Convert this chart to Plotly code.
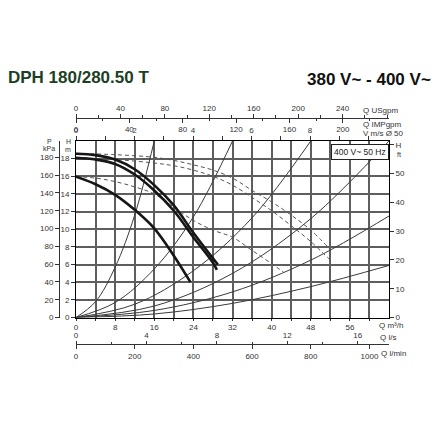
import plotly.graph_objects as go

# ---------------- data (Q in m3/h, H in m) ----------------
q_c1 = [0, 4, 8, 12, 16, 20, 24, 28, 29]
h_c1 = [18.55, 18.4, 17.9, 16.8, 15.0, 12.7, 9.6, 6.7, 6.0]
q_c2 = [0, 4, 8, 12, 16, 20, 24, 28, 28.8]
h_c2 = [18.1, 17.9, 17.4, 16.2, 14.4, 12.1, 9.1, 6.2, 5.4]
q_c3 = [0, 4, 8, 12, 16, 20, 23.4]
h_c3 = [15.95, 15.1, 13.9, 12.2, 10.1, 7.0, 4.0]

q_da = [0, 8, 16, 20, 24, 28, 32, 36, 40, 44, 48, 52]
h_da = [18.6, 18.45, 18.15, 17.8, 17.3, 16.7, 15.8, 14.4, 13.1, 11.6, 9.9, 7.7]
q_db = [0, 8, 16, 20, 24, 28, 32, 36, 40, 44, 48, 52]
h_db = [18.1, 17.9, 17.5, 17.2, 16.7, 16.0, 15.0, 13.6, 12.1, 10.4, 8.6, 6.5]
q_dc = [0, 4, 8, 12, 16, 20, 24, 28, 32, 36, 40, 42.5]
h_dc = [15.95, 15.8, 15.4, 14.8, 14.0, 12.5, 11.0, 9.9, 9.1, 7.6, 6.1, 5.1]

# system curves
q_s1 = [0, 4, 8, 12, 16];   h_s1 = [0, 1.8, 5.7, 11.6, 20]
q_s2 = [0, 8, 16, 24, 32];  h_s2 = [0, 1.7, 5.5, 11.4, 20]
q_s3 = [0, 12, 24, 36, 48]; h_s3 = [0, 1.5, 5.3, 11.3, 20]
q_s4 = [0, 16, 32, 48, 64]; h_s4 = [0, 1.3, 5.0, 11.2, 20]
q_s5 = [0, 16, 32, 48, 64]; h_s5 = [0, 0.8, 2.9, 6.5, 11.5]
q_s6 = [0, 16, 32, 48, 64]; h_s6 = [0, 0.4, 1.6, 3.5, 5.9]

# axis ticks
q_ticks = list(range(0, 61, 4))
q_labels = [str(v) if v % 8 == 0 else "" for v in q_ticks]
h_ticks = list(range(0, 19, 2))
ft_ticks = [0, 10, 20, 30, 40, 50, 60]
ft_labels = ["0", "10", "20", "30", "40", "50", "H"]
kpa_ticks = list(range(0, 181, 20))
usgpm_ticks = [0, 40, 80, 120, 160, 200, 240]
impgpm_ticks = [0, 40, 80, 120, 160, 200]
v_ticks = list(range(0, 11))
v_labels = [str(v) if (v % 2 == 0 and v <= 8) else "" for v in v_ticks]
ls_ticks = [0, 4, 8, 12, 16]
lmin_ticks = [0, 200, 400, 600, 800, 1000]

# ---------------- layout geometry (screen pixels; page body has an 8px margin) ----------------
W, H = 440, 440
OFF = 8
PAPER_L, PAPER_R, PAPER_T, PAPER_B = 50, 389, 100, 360   # screen px
ML, MR = PAPER_L - OFF, W - (PAPER_R - OFF)
MT, MB = PAPER_T - OFF, H - (PAPER_B - OFF)
PW = PAPER_R - PAPER_L
PH = PAPER_B - PAPER_T
X0, X1 = 76, 389
Y0, Y1 = 317.5, 141
Q_MAX = 64


def fx(px):
    return (px - PAPER_L) / PW


def fy(py):
    return (PAPER_B - py) / PH


fig = go.Figure()

sys_style = dict(color="#3a3a3a", width=1, shape="spline", smoothing=1)
for q, h in [(q_s1, h_s1), (q_s2, h_s2), (q_s3, h_s3), (q_s4, h_s4), (q_s5, h_s5), (q_s6, h_s6)]:
    fig.add_trace(go.Scatter(x=q, y=h, mode="lines", line=sys_style, showlegend=False, hoverinfo="skip"))

dash_style = dict(color="#555555", width=1, dash="4px,3px", shape="spline", smoothing=1)
for q, h in [(q_da, h_da), (q_db, h_db), (q_dc, h_dc)]:
    fig.add_trace(go.Scatter(x=q, y=h, mode="lines", line=dash_style, showlegend=False, hoverinfo="skip"))

thick = dict(color="#161616", width=2.6, shape="spline", smoothing=1)
for q, h in [(q_c1, h_c1), (q_c2, h_c2), (q_c3, h_c3)]:
    fig.add_trace(go.Scatter(x=q, y=h, mode="lines", line=thick, showlegend=False, hoverinfo="skip"))

# placeholder traces so every overlay axis is drawn
for xa, ya in [("x2", "y"), ("x3", "y"), ("x4", "y"), ("x5", "y"), ("x6", "y"), ("x", "y2"), ("x", "y3")]:
    fig.add_trace(go.Scatter(x=[None], y=[None], xaxis=xa, yaxis=ya, mode="lines",
                             showlegend=False, hoverinfo="skip"))

tf = dict(family="Liberation Sans, Arial, sans-serif", size=8, color="#333333")
grid = dict(showgrid=True, gridcolor="#5e5e5e", gridwidth=1.5)
common = dict(automargin=False, zeroline=False, tickcolor="#333", tickfont=tf, tickmode="array")

fig.update_layout(
    width=W, height=H,
    margin=dict(l=ML, r=MR, t=MT, b=MB, pad=0, autoexpand=False),
    paper_bgcolor="white", plot_bgcolor="white",
    showlegend=False,
    xaxis=dict(domain=[fx(X0), 1], range=[0, Q_MAX], tickvals=q_ticks, ticktext=q_labels,
               ticks="outside", ticklen=2, showline=True, linecolor="black", linewidth=1,
               anchor="y", **grid, **common),
    yaxis=dict(domain=[fy(Y0), fy(Y1)], range=[0, 20], tickvals=h_ticks,
               ticks="outside", ticklen=4, showline=True, linecolor="black",
               linewidth=1, anchor="x", **grid, **common),
    yaxis2=dict(overlaying="y", side="right", anchor="x", range=[0, (Y0 - Y1) / 2.88],
                tickvals=ft_ticks, ticktext=ft_labels, ticks="outside", ticklen=4,
                showline=True, linecolor="black", linewidth=1, showgrid=False, **common),
    yaxis3=dict(overlaying="y", side="left", anchor="free", position=fx(59),
                range=[0, (Y0 - Y1) / 0.890], tickvals=kpa_ticks, ticks="outside", ticklen=4,
                showline=True, linecolor="#333", linewidth=1, showgrid=False, **common),
    xaxis2=dict(overlaying="x", anchor="free", position=fy(117.7), side="top",
                range=[0, Q_MAX / 0.22712], tickvals=usgpm_ticks, ticks="outside", ticklen=4,
                showline=True, linecolor="#333", linewidth=1, showgrid=False,
                minor=dict(dtick=20, tick0=0, ticks="outside", ticklen=2.5, tickcolor="#333"),
                **common),
    xaxis3=dict(overlaying="x", anchor="free", position=fy(117.7), side="bottom",
                range=[0, Q_MAX / 0.27277], tickvals=impgpm_ticks, ticks="outside", ticklen=4,
                showline=False, showgrid=False,
                minor=dict(dtick=20, tick0=0, ticks="outside", ticklen=2.5, tickcolor="#333"),
                **common),
    xaxis4=dict(overlaying="x", anchor="y", side="top", range=[0, (X1 - X0) / 29.25],
                tickvals=v_ticks, ticktext=v_labels, ticks="outside", ticklen=4,
                showline=True, linecolor="black", linewidth=1, showgrid=False, **common),
    xaxis5=dict(overlaying="x", anchor="free", position=fy(344.3), side="top",
                range=[0, Q_MAX / 3.6], tickvals=ls_ticks, ticks="outside", ticklen=3,
                showline=True, linecolor="#333", linewidth=1, showgrid=False,
                minor=dict(dtick=2, tick0=0, ticks="outside", ticklen=2.5, tickcolor="#333"),
                **common),
    xaxis6=dict(overlaying="x", anchor="free", position=fy(344.3), side="bottom",
                range=[0, Q_MAX / 0.06], tickvals=lmin_ticks, ticks="outside", ticklen=4,
                showline=False, showgrid=False, **common),
)

bold = "Liberation Sans, Arial, sans-serif"


def ann(text, px, py, xanchor="left", font=None, **kw):
    fig.add_annotation(text=text, x=fx(px), y=fy(py), xref="paper", yref="paper",
                       xanchor=xanchor, yanchor="middle", showarrow=False,
                       font=font or tf, **kw)


small = dict(family="Liberation Sans, Arial, sans-serif", size=7, color="#333333")
ann("<b>DPH 180/280.50 T</b>", 6, 77.5, font=dict(family=bold, size=17, color="#1d3f26"))
ann("<b>380 V~ - 400 V~</b>", 433, 79.5, xanchor="right", font=dict(family=bold, size=17, color="#111"))
ann("Q USgpm", 361, 110)
ann("Q IMPgpm", 361, 124)
ann("V m/s Ø 50", 361, 133.5)
ann("Q m³/h", 377, 325)
ann("Q l/s", 378, 337)
ann("Q l/min", 379, 353)
ann("P", 49, 141.5, xanchor="center", font=small)
ann("kPa", 49, 148.5, xanchor="center", font=small)
ann("H", 68, 141.5, xanchor="center", font=small)
ann("m", 68, 149, xanchor="center", font=small)
ann("ft", 395, 154.5, font=small)
ann("400 V~ 50 Hz", 359.5, 152, xanchor="center",
    font=dict(family="Liberation Sans, Arial, sans-serif", size=8.5, color="#222"),
    bgcolor="white", bordercolor="#222", borderwidth=1, borderpad=2)

fig.write_html("out.html")
